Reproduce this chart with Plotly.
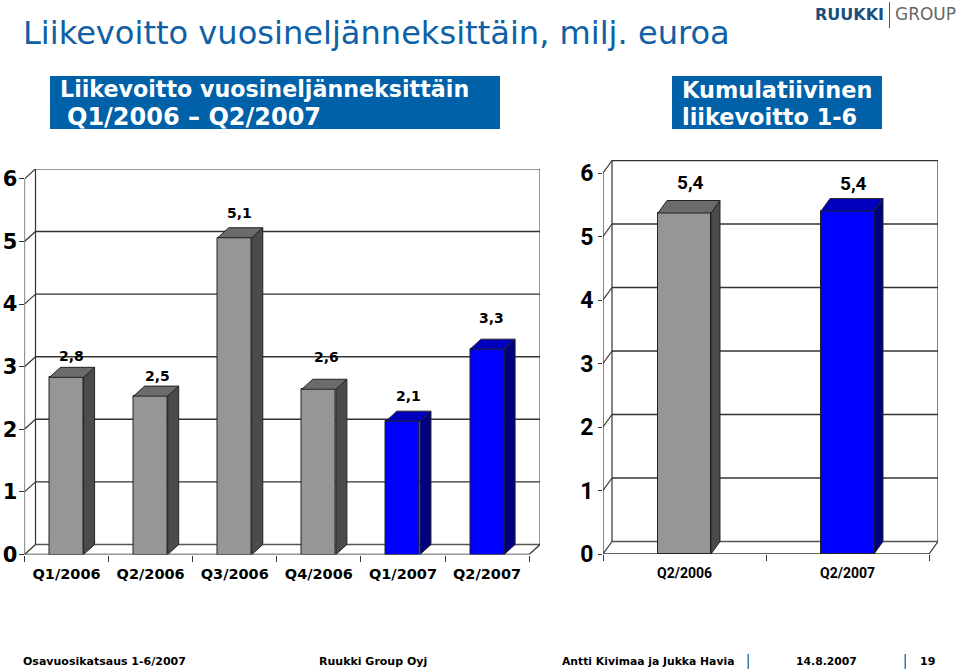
import plotly.graph_objects as go

W, H = 960, 671

# --- data ---
quarters = ["Q1/2006", "Q2/2006", "Q3/2006", "Q4/2006", "Q1/2007", "Q2/2007"]
quarterly_profit = [2.83, 2.53, 5.06, 2.64, 2.13, 3.28]
quarter_is_2007 = [False, False, False, False, True, True]

periods = ["Q2/2006", "Q2/2007"]
cumulative_profit = [5.37, 5.40]
period_is_2007 = [False, True]

y_ticks = [0, 1, 2, 3, 4, 5, 6]

# --- styling ---
BLUE_BOX = "#0060A8"
TITLE_BLUE = "#1060A6"
PALETTE = {
    False: dict(front="#969696", side="#4B4B4B", top="#6B6B6B"),
    True: dict(front="#0000FF", side="#000080", top="#0000BE"),
}
LINE = "#333333"
WIDE = "DejaVu Sans"
NARROW = "Roboto"


def comma(v):
    return f"{v:.1f}".replace(".", ",")


def px(x):
    return x / W


def py(y):
    return 1 - y / H


fig = go.Figure()
shapes, annotations = [], []


def chart(xname, yname, cats, vals, flags, rect, unit_x, unit_y, depth_px, bar_w,
          font_family, tick_size, cat_size, lab_size, ticklen, standoff, y_standoff, lab_dx, lab_dy):
    left, right, top, bottom = rect
    n = len(cats)
    dx, dy = depth_px[0] / unit_x, depth_px[1] / unit_y
    x_lo = -0.5
    x_hi = x_lo + (right - left) / unit_x
    y_hi = (bottom - top) / unit_y
    x_front = n - 0.5
    axis_x = "xaxis" + xname[1:]
    axis_y = "yaxis" + yname[1:]
    fig.update_layout({
        axis_x: dict(domain=[px(left), px(right)], range=[x_lo, x_hi], anchor=yname,
                     tickmode="array", tickvals=list(range(n)), ticktext=cats, ticks="",
                     showgrid=False, zeroline=False, showline=False, ticklabelstandoff=standoff,
                     minor=dict(tickmode="array", tickvals=[i - 0.5 for i in range(n + 1)],
                                ticks="outside", ticklen=6, tickwidth=1, tickcolor=LINE, showgrid=False),
                     tickfont=dict(family=font_family, size=cat_size, color="#000000", weight="bold")),
        axis_y: dict(domain=[py(bottom), py(top)], range=[0, y_hi], anchor=xname,
                     tickmode="array", tickvals=y_ticks, ticktext=[str(t) for t in y_ticks],
                     ticks="outside", ticklen=ticklen, tickwidth=1, tickcolor=LINE,
                     showgrid=False, zeroline=False, showline=False, ticklabelstandoff=y_standoff,
                     tickfont=dict(family=font_family, size=tick_size, color="#000000", weight="bold")),
    })

    def seg(x0, y0, x1, y1, color=LINE, width=1.2):
        shapes.append(dict(type="line", xref=xname, yref=yname, x0=x0, y0=y0, x1=x1, y1=y1,
                           layer="below", line=dict(color=color, width=width)))

    for k in y_ticks:
        seg(x_lo + dx, k + dy, x_front + dx, k + dy, "#555555" if k == 0 else LINE, 1.4)
        seg(x_lo, k, x_lo + dx, k + dy)
    seg(x_lo, 0, x_lo, y_ticks[-1])
    seg(x_lo + dx, dy, x_lo + dx, y_ticks[-1] + dy)
    seg(x_front + dx, dy, x_front + dx, y_ticks[-1] + dy)
    seg(x_front, 0, x_front + dx, dy)
    seg(x_lo, 0, x_front, 0, "#333333", 1.6)

    fig.add_trace(go.Bar(
        x=list(range(n)), y=vals, width=bar_w, xaxis=xname, yaxis=yname,
        marker=dict(color=[PALETTE[f]["front"] for f in flags], line=dict(color="#222222", width=1)),
        showlegend=False, hoverinfo="skip"))

    for i, (v, f) in enumerate(zip(vals, flags)):
        a, b = i - bar_w / 2, i + bar_w / 2
        fig.add_trace(go.Scatter(
            x=[b, b + dx, b + dx, b, b], y=[0, dy, v + dy, v, 0], mode="lines", fill="toself",
            fillcolor=PALETTE[f]["side"], line=dict(color="#222222", width=1),
            xaxis=xname, yaxis=yname, showlegend=False, hoverinfo="skip"))
        fig.add_trace(go.Scatter(
            x=[a, b, b + dx, a + dx, a], y=[v, v, v + dy, v + dy, v], mode="lines", fill="toself",
            fillcolor=PALETTE[f]["top"], line=dict(color="#222222", width=1),
            xaxis=xname, yaxis=yname, showlegend=False, hoverinfo="skip"))
        annotations.append(dict(
            x=i, y=v + dy, xref=xname, yref=yname, text=comma(v), showarrow=False,
            xanchor="center", yanchor="middle", xshift=lab_dx[i], yshift=lab_dy[i],
            font=dict(family=font_family, size=lab_size, color="#000000", weight="bold")))


chart("x", "y", quarters, quarterly_profit, quarter_is_2007,
      rect=(24.5, 540, 169, 554.5), unit_x=84.1, unit_y=62.6, depth_px=(11, 10), bar_w=0.405,
      font_family=WIDE + ", Verdana", tick_size=21, cat_size=14.5, lab_size=14, ticklen=5, standoff=9,
      y_standoff=-3, lab_dx=[5, 7, 5, 8, 6, 4], lab_dy=[11, 10, 15, 22, 15, 21])

chart("x2", "y2", periods, cumulative_profit, period_is_2007,
      rect=(603, 938, 160, 554), unit_x=163, unit_y=63.5, depth_px=(9, 12.5), bar_w=0.325,
      font_family=NARROW, tick_size=23, cat_size=14, lab_size=19, ticklen=4, standoff=9,
      y_standoff=0, lab_dx=[6, 6], lab_dy=[18, 15])


def text(x, y, s, size, color="#000000", bold=False, anchor="left", family=WIDE):
    annotations.append(dict(
        x=px(x), y=py(y), xref="paper", yref="paper", text=f"<b>{s}</b>" if bold else s,
        showarrow=False, xanchor=anchor, yanchor="middle", borderpad=0,
        font=dict(family=family, size=size, color=color)))


def box(x0, x1, y0, y1, color):
    shapes.append(dict(type="rect", xref="paper", yref="paper", x0=px(x0), x1=px(x1), y0=py(y1), y1=py(y0),
                       fillcolor=color, line=dict(width=0), layer="below"))


text(22, 33, "Liikevoitto vuosineljänneksittäin, milj. euroa", 32.1, TITLE_BLUE)
box(50, 500, 76, 129, BLUE_BOX)
box(672, 882, 76, 129, BLUE_BOX)
text(59, 89, "Liikevoitto vuosineljänneksittäin", 22.2, "#FFFFFF", True)
text(66, 117, "Q1/2006 – Q2/2007", 24, "#FFFFFF", True)
text(681, 90, "Kumulatiivinen", 22.4, "#FFFFFF", True)
text(681, 117, "liikevoitto 1-6", 22.4, "#FFFFFF", True)

text(814, 14, "RUUKKI", 16, "#1C4F80", True)
box(889, 890, 2, 28, "#555555")
text(894, 14, "GROUP", 17, "#666666")

text(22, 661, "Osavuosikatsaus 1-6/2007", 11, "#000000", True)
text(318, 661, "Ruukki Group Oyj", 11, "#000000", True)
text(561, 661, "Antti Kivimaa ja Jukka Havia", 10.8, "#000000", True)
text(826.5, 661, "14.8.2007", 10.8, "#000000", True, "center")
text(927, 661, "19", 11, "#000000", True, "center")
box(747.5, 749, 654, 669, "#3A78B0")
box(904.5, 906, 654, 669, "#3A78B0")

fig.update_layout(
    width=W, height=H, margin=dict(l=0, r=0, t=0, b=0, pad=0, autoexpand=False),
    paper_bgcolor="#FFFFFF", plot_bgcolor="rgba(0,0,0,0)", bargap=0,
    shapes=shapes, annotations=annotations, showlegend=False,
)

fig.write_html("out.html", config=dict(displayModeBar=False),
               post_script="document.body.style.margin='0';document.documentElement.style.overflow='hidden';")
